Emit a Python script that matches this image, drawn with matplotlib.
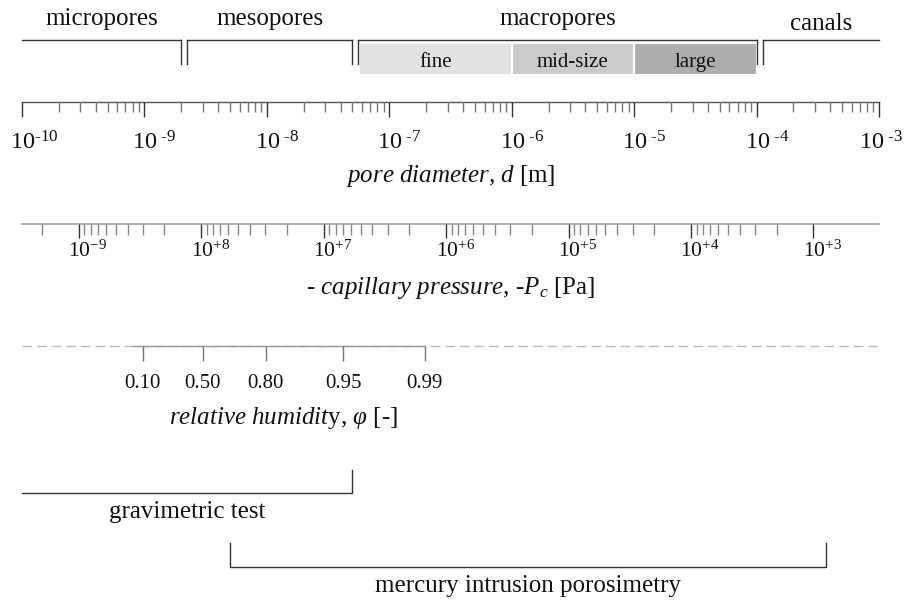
import numpy as np
import matplotlib
matplotlib.use("Agg")
import matplotlib.pyplot as plt
from matplotlib.transforms import offset_copy

plt.rcParams['font.family'] = ['Liberation Serif', 'DejaVu Serif']
plt.rcParams['mathtext.fontset'] = 'custom'
plt.rcParams['mathtext.rm'] = 'Liberation Serif'
plt.rcParams['mathtext.it'] = 'Liberation Serif:italic'

# pore classes, limits as pore diameter [m]
class_names = ['micropores', 'mesopores', 'macropores', 'canals']
class_limits = [1e-10, 2e-9, 5e-8, 1e-4, 1e-3]
macro_names = ['fine', 'mid-size', 'large']
macro_limits = [5e-8, 1e-6, 1e-5, 1e-4]
macro_colors = ['#e2e2e2', '#cbcbcb', '#adadad']

# diameter axis
d_exp = [-10, -9, -8, -7, -6, -5, -4, -3]
d_labels = [r'$10^{\text{-10}}$', r'$10^{\text{ -9}}$', r'$10^{\text{ -8}}$',
            r'$10^{\text{ -7}}$', r'$10^{\text{ -6}}$', r'$10^{\text{ -5}}$',
            r'$10^{\text{ -4}}$', r'$10^{\text{ -3}}$']

# capillary pressure axis, -Pc = 4*sigma/d
sigma = 0.0728
p_exp = [9, 8, 7, 6, 5, 4, 3]
p_labels = ['$10^{-9}$', '$10^{+8}$', '$10^{+7}$', '$10^{+6}$',
            '$10^{+5}$', '$10^{+4}$', '$10^{+3}$']

# relative humidity ticks and equivalent diameters
rh_labels = ['0.10', '0.50', '0.80', '0.95', '0.99']
rh_diam = [9.7e-10, 3.0e-9, 9.8e-9, 4.2e-8, 1.95e-7]

# measuring ranges
grav_range = [1e-10, 5e-8]
mip_range = [5e-9, 3.7e-4]

fig = plt.figure(figsize=(9.09, 6.03), dpi=100)
ax = fig.add_axes([0, 0, 1, 1])
ax.set_xscale('log')
dec = 122.43  # pixels per decade
ax.set_xlim(10 ** (-10 - 22 / dec), 10 ** (-3 + 30 / dec))
ax.set_ylim(603, 0)
ax.axis('off')

dark = '#333333'
gap = 10 ** (6 / dec)
txt = '#111111'

# class brackets
y0, y1 = 40, 64
for i, name in enumerate(class_names):
    a = class_limits[i] if i == 0 else class_limits[i] * gap
    b = class_limits[i + 1]
    ax.plot([a, b], [y0, y0], color=dark, lw=1.0)
    if i > 0:
        ax.plot([a, a], [y0, y1], color=dark, lw=1.0)
    if i < len(class_names) - 1:
        ax.plot([b, b], [y0, y1], color=dark, lw=1.0)
    xm = np.sqrt(a * b)
    yb = 30 if name == 'canals' else 25
    ax.text(xm, yb, name, ha='center', va='baseline', fontsize=18, color=txt)

# macropore sub-classes
for i, name in enumerate(macro_names):
    a = macro_limits[i] * gap * 1.02 if i == 0 else macro_limits[i]
    b = macro_limits[i + 1]
    ax.fill_between([a, b], 43, 75, facecolor=macro_colors[i],
                    edgecolor='white', lw=1.5)
    ax.text(np.sqrt(a * b), 67, name, ha='center', va='baseline',
            fontsize=15, color=txt)

# pore diameter axis
ya = 102
ax.plot([10.0 ** d_exp[0], 10.0 ** d_exp[-1]], [ya, ya], color='#555555', lw=1.0)
majors = [10.0 ** e for e in d_exp]
minors = [m * 10.0 ** e for e in d_exp[:-1] for m in range(2, 10)]
ax.vlines(majors, ya, ya + 15, color=dark, lw=1.0)
ax.vlines(minors, ya, ya + 10, color='#777777', lw=1.0)
for i, (v, s) in enumerate(zip(majors, d_labels)):
    shift = -20 if i == len(majors) - 1 else -12
    tr = offset_copy(ax.transData, fig=fig, x=shift, y=0, units='dots')
    ax.text(v, 150, s, ha='left', va='baseline', fontsize=17.5,
            color=txt, transform=tr)
ax.text(np.sqrt(1e-10 * 1e-3), 182, r'$\mathit{pore\ diameter{,}\ d}$ [m]',
        ha='center', va='baseline', fontsize=18, color=txt)

# capillary pressure axis
yp = 224
dmin, dmax = 10.0 ** d_exp[0], 10.0 ** d_exp[-1]
ax.plot([dmin, dmax], [yp, yp], color='#aaaaaa', lw=1.3)
p_major = [4 * sigma / 10.0 ** e for e in p_exp]
p_minor = [4 * sigma / (m * 10.0 ** e) for e in [10] + p_exp for m in range(2, 10)]
p_minor = [v for v in p_minor if dmin <= v <= dmax * 1.001]
ax.vlines(p_major, yp, yp + 14, color=dark, lw=1.0)
ax.vlines(p_minor, yp, yp + 11, color='#888888', lw=1.0)
plab_tr = offset_copy(ax.transData, fig=fig, x=-10.5, y=0, units='dots')
for v, s in zip(p_major, p_labels):
    ax.text(v, 257, s, ha='left', va='baseline', fontsize=15.5,
            color=txt, transform=plab_tr)
ax.text(np.sqrt(1e-10 * 1e-3), 294,
        r'- $\mathit{capillary\ pressure{,}}$ -$\mathit{P_c}$ [Pa]',
        ha='center', va='baseline', fontsize=18, color=txt)

# relative humidity axis
yh = 346
ax.plot([dmin, dmax], [yh, yh], color='#bbbbbb', lw=1.0, dashes=(7, 3.5))
ax.plot([rh_diam[0] * 0.83, rh_diam[-1]], [yh, yh], color='#999999', lw=1.0)
ax.vlines(rh_diam, yh, yh + 15, color='#777777', lw=1.0)
for v, s in zip(rh_diam, rh_labels):
    ax.text(v, 388, s, ha='center', va='baseline', fontsize=15, color=txt)
ax.text(np.sqrt(rh_diam[0] * rh_diam[-1]), 424,
        r'$\mathit{relative\ humidit}$y, $\mathit{φ}$ [-]',
        ha='center', va='baseline', fontsize=18, color=txt)

# gravimetric test
a, b = grav_range
ax.plot([a, b, b], [493, 493, 470], color=dark, lw=1.0)
ax.text(np.sqrt(a * b), 518, 'gravimetric test', ha='center', va='baseline',
        fontsize=18, color=txt)

# mercury intrusion porosimetry
a, b = mip_range
ax.plot([a, a, b, b], [543, 567, 567, 543], color=dark, lw=1.0)
ax.text(np.sqrt(a * b), 592, 'mercury intrusion porosimetry', ha='center',
        va='baseline', fontsize=18, color=txt)

fig.savefig('out.png', dpi=100, facecolor='white')
